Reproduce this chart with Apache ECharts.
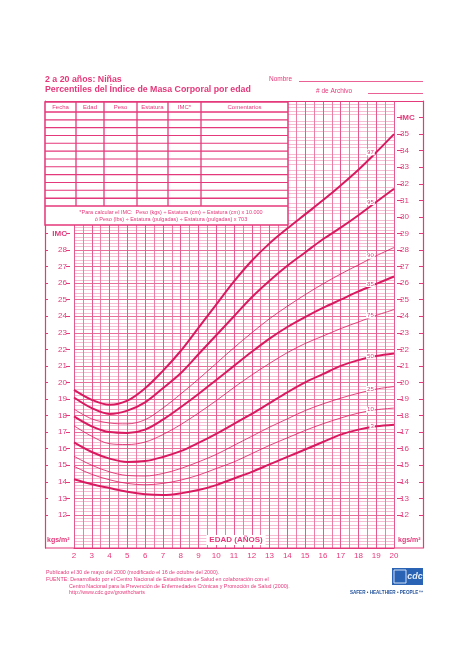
<!DOCTYPE html>
<html>
<head>
<meta charset="utf-8">
<script src="https://cdn.jsdelivr.net/npm/echarts@6/dist/echarts.min.js"></script>
<style>
  html, body { margin: 0; padding: 0; background: #fff; }
  #chart { width: 474px; height: 669px; }
</style>
</head>
<body>
<div id="chart"></div>
<script>
// Edad (años) y percentiles del IMC
const ages = [2, 3, 4, 5, 6, 7, 8, 9, 10, 11, 12, 13, 14, 15, 16, 17, 18, 19, 20];
const p97 = [19.55, 18.95, 18.65, 18.9, 19.65, 20.7, 21.9, 23.3, 24.7, 26.1, 27.35, 28.4, 29.3, 30.15, 31.0, 31.9, 32.85, 33.9, 35.0];
const p95 = [19.09, 18.45, 18.1, 18.3, 18.8, 19.65, 20.55, 21.7, 22.85, 24.0, 25.15, 26.15, 27.05, 27.85, 28.65, 29.35, 30.1, 30.9, 31.7];
const p90 = [18.39, 17.8, 17.55, 17.5, 17.75, 18.45, 19.3, 20.2, 21.15, 22.1, 23.0, 23.85, 24.6, 25.3, 25.95, 26.55, 27.1, 27.65, 28.15];
const p85 = [17.95, 17.35, 17.0, 16.95, 17.15, 17.75, 18.5, 19.3, 20.15, 21.0, 21.85, 22.65, 23.35, 23.95, 24.5, 25.0, 25.5, 25.95, 26.4];
const p75 = [17.38, 16.75, 16.3, 16.25, 16.4, 16.85, 17.45, 18.15, 18.9, 19.7, 20.45, 21.15, 21.8, 22.35, 22.8, 23.25, 23.65, 24.05, 24.4];
const p50 = [16.38, 15.8, 15.4, 15.2, 15.25, 15.5, 15.85, 16.35, 16.9, 17.5, 18.1, 18.75, 19.4, 20.0, 20.5, 21.0, 21.35, 21.6, 21.75];
const p25 = [15.54, 15.0, 14.6, 14.38, 14.35, 14.5, 14.8, 15.2, 15.65, 16.2, 16.75, 17.3, 17.8, 18.3, 18.7, 19.05, 19.35, 19.6, 19.75];
const p10 = [14.93, 14.45, 14.12, 13.9, 13.82, 13.9, 14.1, 14.4, 14.8, 15.2, 15.7, 16.2, 16.65, 17.1, 17.5, 17.85, 18.15, 18.35, 18.45];
const p3 = [14.15, 13.85, 13.62, 13.4, 13.25, 13.2, 13.3, 13.5, 13.8, 14.2, 14.6, 15.05, 15.5, 15.95, 16.4, 16.85, 17.15, 17.35, 17.45];

const leftTicks = [12, 13, 14, 15, 16, 17, 18, 19, 20, 21, 22, 23, 24, 25, 26, 27, 28, 29];
const rightTicks = [12, 13, 14, 15, 16, 17, 18, 19, 20, 21, 22, 23, 24, 25, 26, 27, 28, 29, 30, 31, 32, 33, 34, 35, 36];
const ageTicks = ages;

const curves = [
  { name: '97', data: p97, thick: true },
  { name: '95', data: p95, thick: true },
  { name: '90', data: p90, thick: false },
  { name: '85', data: p85, thick: true },
  { name: '75', data: p75, thick: false },
  { name: '50', data: p50, thick: true },
  { name: '25', data: p25, thick: false },
  { name: '10', data: p10, thick: false },
  { name: '3', data: p3, thick: true }
];

const PINK = '#e4397a';
const CURVE = '#d81b60';
const FONT = 'Liberation Sans, Arial, sans-serif';

const chart = echarts.init(document.getElementById('chart'));

const series = curves.map(c => ({
  name: c.name,
  type: 'line',
  smooth: 0.35,
  showSymbol: true,
  symbol: 'circle',
  symbolSize: 1,
  itemStyle: { color: 'rgba(0,0,0,0)' },
  z: 3,
  lineStyle: { color: CURVE, width: c.thick ? 2 : 0.8 },
  data: ages.map((a, i) => {
    if (a === 19) {
      return {
        value: [a, c.data[i]],
        label: {
          show: true, formatter: c.name, position: 'left', distance: 1,
          fontSize: 6, color: PINK, fontFamily: FONT,
          backgroundColor: '#fff', padding: [0, 1]
        }
      };
    }
    return [a, c.data[i]];
  })
}));

// tabla de registro
const colX = [45, 76, 104, 137, 168, 201, 288];
const headers = ['Fecha', 'Edad', 'Peso', 'Estatura', 'IMC*', 'Comentarios'];
const tableEls = [];
tableEls.push({ type: 'rect', z: 100, shape: { x: 45, y: 102, width: 243, height: 123 },
  style: { fill: '#fff', stroke: PINK, lineWidth: 1.5 } });
for (let r = 0; r <= 12; r++) {
  const y = 112 + r * 7.83;
  tableEls.push({ type: 'line', z: 101, shape: { x1: 45, y1: y, x2: 288, y2: y },
    style: { stroke: PINK, lineWidth: r === 0 || r >= 11 ? 1.5 : 1.1 } });
}
for (let c = 1; c < colX.length - 1; c++) {
  tableEls.push({ type: 'line', z: 101, shape: { x1: colX[c], y1: 102, x2: colX[c], y2: 206 },
    style: { stroke: PINK, lineWidth: 1.3 } });
}
headers.forEach((h, i) => {
  tableEls.push({ type: 'text', z: 102, x: (colX[i] + colX[i + 1]) / 2, y: 107,
    style: { text: h, fill: PINK, fontSize: 6, fontFamily: FONT, align: 'center', verticalAlign: 'middle' } });
});
tableEls.push({ type: 'text', z: 102, x: 171, y: 212,
  style: { text: '*Para calcular el IMC:  Peso (kgs) ÷ Estatura (cm) ÷ Estatura (cm) x 10.000',
    fill: PINK, fontSize: 5.5, fontFamily: FONT, align: 'center', verticalAlign: 'middle' } });
tableEls.push({ type: 'text', z: 102, x: 171, y: 219,
  style: { text: 'ó Peso (lbs) ÷ Estatura (pulgadas) ÷ Estatura (pulgadas) x 703',
    fill: PINK, fontSize: 5.5, fontFamily: FONT, align: 'center', verticalAlign: 'middle' } });

const footEls = [
  { type: 'text', x: 46, y: 573, style: { text: 'Publicado el 30 de mayo del 2000 (modificado el 16 de octubre del 2000).', fill: PINK, fontSize: 5.3, fontFamily: FONT, verticalAlign: 'middle' } },
  { type: 'text', x: 46, y: 580, style: { text: 'FUENTE: Desarrollado por el Centro Nacional de Estadísticas de Salud en colaboración con el', fill: PINK, fontSize: 5.3, fontFamily: FONT, verticalAlign: 'middle' } },
  { type: 'text', x: 69, y: 586.5, style: { text: 'Centro Nacional para la Prevención de Enfermedades Crónicas y Promoción de Salud (2000).', fill: PINK, fontSize: 5.3, fontFamily: FONT, verticalAlign: 'middle' } },
  { type: 'text', x: 69, y: 592.7, style: { text: 'http://www.cdc.gov/growthcharts', fill: PINK, fontSize: 5.3, fontFamily: FONT, verticalAlign: 'middle' } },
  { type: 'rect', shape: { x: 392, y: 568, width: 31, height: 17 }, style: { fill: '#2a63b4' } },
  { type: 'rect', shape: { x: 394, y: 570, width: 12, height: 13 }, style: { fill: 'none', stroke: '#cfe0f5', lineWidth: 1 } },
  { type: 'text', x: 415, y: 576.5, style: { text: 'cdc', fill: '#e6f0fb', fontSize: 9, fontWeight: 'bold', fontStyle: 'italic', fontFamily: FONT, align: 'center', verticalAlign: 'middle' } },
  { type: 'text', x: 423, y: 593, style: { text: 'SAFER • HEALTHIER • PEOPLE™', fill: '#1f4f9a', fontSize: 4.6, fontWeight: 'bold', fontFamily: FONT, align: 'right', verticalAlign: 'middle' } }
];

const headEls = [
  { type: 'text', x: 45, y: 79.5, style: { text: '2 a 20 años: Niñas', fill: PINK, fontSize: 8.8, fontWeight: 'bold', fontFamily: FONT, verticalAlign: 'middle' } },
  { type: 'text', x: 45, y: 89.5, style: { text: 'Percentiles del Índice de Masa Corporal por edad', fill: PINK, fontSize: 8.8, fontWeight: 'bold', fontFamily: FONT, verticalAlign: 'middle' } },
  { type: 'text', x: 269, y: 79, style: { text: 'Nombre', fill: PINK, fontSize: 6.5, fontFamily: FONT, verticalAlign: 'middle' } },
  { type: 'line', shape: { x1: 299, y1: 81.5, x2: 423, y2: 81.5 }, style: { stroke: PINK, lineWidth: 0.8 } },
  { type: 'text', x: 316, y: 91, style: { text: '# de Archivo', fill: PINK, fontSize: 6.5, fontFamily: FONT, verticalAlign: 'middle' } },
  { type: 'line', shape: { x1: 368, y1: 93.5, x2: 423, y2: 93.5 }, style: { stroke: PINK, lineWidth: 0.8 } }
];

const frameEls = [
  { type: 'line', z: 100, shape: { x1: 45, y1: 101.5, x2: 423, y2: 101.5 }, style: { stroke: PINK, lineWidth: 1 } },
  { type: 'line', z: 100, shape: { x1: 45, y1: 548, x2: 423, y2: 548 }, style: { stroke: PINK, lineWidth: 1.2 } },
  { type: 'text', z: 100, x: 236, y: 540, style: { text: 'EDAD (AÑOS)', fill: PINK, fontSize: 8, fontWeight: 'bold', fontFamily: FONT, align: 'center', verticalAlign: 'middle', backgroundColor: '#fff', padding: [1, 3] } },
  { type: 'text', z: 100, x: 47, y: 540, style: { text: 'kgs/m²', fill: PINK, fontSize: 7, fontWeight: 'bold', fontFamily: FONT, verticalAlign: 'middle' } },
  { type: 'text', z: 100, x: 398, y: 540, style: { text: 'kgs/m²', fill: PINK, fontSize: 7, fontWeight: 'bold', fontFamily: FONT, verticalAlign: 'middle' } }
];

const leftLabel = v => v === 29 ? '{b|IMC}' : String(v);
const rightLabel = v => v === 36 ? '{b|IMC}' : String(v);
const labelRich = { b: { fontWeight: 'bold', fontSize: 8, color: PINK, fontFamily: FONT } };

chart.setOption({
  animation: false,
  backgroundColor: '#fff',
  grid: { left: 74, right: 80, top: 101, bottom: 121 },
  xAxis: {
    type: 'value', min: 2, max: 20, interval: 1,
    axisLine: { show: true, lineStyle: { color: PINK, width: 1 } },
    axisTick: { show: false },
    axisLabel: { customValues: ageTicks, margin: 4, fontSize: 8, color: PINK, fontFamily: FONT },
    splitLine: { show: true, lineStyle: { color: '#e35a8c', width: 1 } },
    minorTick: { show: false, splitNumber: 2 },
    minorSplitLine: { show: true, lineStyle: { color: '#e8729c', width: 0.9 } }
  },
  yAxis: [
    {
      type: 'value', min: 10, max: 37, interval: 1, position: 'left', offset: 4,
      axisLine: { show: false },
      axisTick: { show: true, length: 4, customValues: leftTicks, lineStyle: { color: PINK } },
      axisLabel: { customValues: leftTicks, formatter: leftLabel, rich: labelRich, margin: 3, fontSize: 8, color: PINK, fontFamily: FONT },
      splitLine: { show: true, lineStyle: { color: '#e8709b', width: 1 } },
      minorTick: { show: false, splitNumber: 5 },
      minorSplitLine: { show: true, lineStyle: { color: '#f2a2c0', width: 0.7 } }
    },
    {
      type: 'value', min: 10, max: 37, position: 'left', offset: 29,
      axisLine: { show: true, lineStyle: { color: PINK, width: 1.2 } },
      axisTick: { show: true, inside: true, length: 3, customValues: leftTicks, lineStyle: { color: PINK } },
      axisLabel: { show: false },
      splitLine: { show: false }
    },
    {
      type: 'value', min: 10, max: 37, position: 'right', offset: 3,
      axisLine: { show: false },
      axisTick: { show: true, length: 5, customValues: rightTicks, lineStyle: { color: PINK } },
      axisLabel: { customValues: rightTicks, formatter: rightLabel, rich: labelRich, margin: 3, fontSize: 8, color: PINK, fontFamily: FONT },
      splitLine: { show: false }
    },
    {
      type: 'value', min: 10, max: 37, position: 'right', offset: 29,
      axisLine: { show: true, lineStyle: { color: PINK, width: 1.2 } },
      axisTick: { show: true, inside: true, length: 4, customValues: rightTicks, lineStyle: { color: PINK } },
      axisLabel: { show: false },
      splitLine: { show: false }
    }
  ],
  graphic: [
    { type: 'group', z: 100, children: tableEls },
    { type: 'group', z: 100, children: frameEls },
    { type: 'group', z: 100, children: headEls },
    { type: 'group', z: 100, children: footEls }
  ],
  series: series
});
</script>
</body>
</html>
